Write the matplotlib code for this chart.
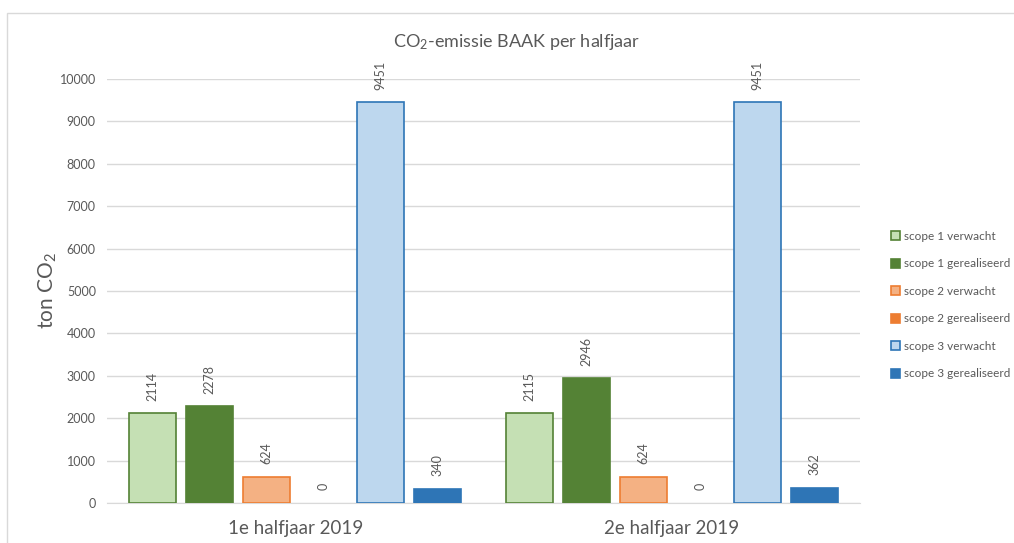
import numpy as np
import matplotlib
matplotlib.use('Agg')
import matplotlib.pyplot as plt
from matplotlib.patches import Rectangle

plt.rcParams['font.family'] = ['Lato', 'DejaVu Sans']
plt.rcParams['mathtext.fontset'] = 'custom'
plt.rcParams['mathtext.rm'] = 'Lato'
plt.rcParams['mathtext.it'] = 'Lato'

# data
periods = ['1e halfjaar 2019', '2e halfjaar 2019']
series = ['scope 1 verwacht', 'scope 1 gerealiseerd', 'scope 2 verwacht',
          'scope 2 gerealiseerd', 'scope 3 verwacht', 'scope 3 gerealiseerd']
values = [[2114, 2115],
          [2278, 2946],
          [624, 624],
          [0, 0],
          [9451, 9451],
          [340, 362]]

faces = ['#c5e0b4', '#548235', '#f4b183', '#ed7d31', '#bdd7ee', '#2e75b6']
edges = ['#548235', '#548235', '#ed7d31', '#ed7d31', '#2e75b6', '#2e75b6']
grey = '#595959'

fig = plt.figure(figsize=(10.14, 5.43), dpi=100)
ax = fig.add_axes([0.1055, 0.0737, 0.7426, 0.7808])

x = np.arange(len(periods))
pitch = 0.1514
w = 0.1248
for i in range(len(series)):
    pos = x + (i - 2.5) * pitch
    lws = [1.2 if v > 0 else 0 for v in values[i]]
    ax.bar(pos, values[i], w, color=faces[i], edgecolor=edges[i],
           linewidth=lws, zorder=3)
    # dummy for legend (zero bars have no outline)
    ax.bar([np.nan], [np.nan], color=faces[i], edgecolor=edges[i], lw=1.2,
           label=series[i])
    for xb, v in zip(pos, values[i]):
        ax.annotate(str(v), (xb, v), xytext=(0, 9), textcoords='offset points',
                    ha='center', va='bottom', rotation=90, fontsize=9, color=grey)

ax.set_xlim(-0.5, 1.5)
ax.set_ylim(0, 10000)
ax.set_yticks(np.arange(0, 10001, 1000))
ax.set_xticks(x)
ax.set_xticklabels(periods)
ax.grid(axis='y', color='#d9d9d9', lw=1, zorder=0)
for s in ['top', 'right', 'left']:
    ax.spines[s].set_visible(False)
ax.spines['bottom'].set_color('#d9d9d9')
ax.tick_params(axis='y', length=0, labelsize=9, labelcolor=grey, pad=8)
ax.tick_params(axis='x', length=0, labelsize=13.5, labelcolor=grey, pad=12)

ax.set_ylabel('ton CO$_2$', fontsize=15, color=grey)
ax.yaxis.set_label_coords(-0.064, 0.5)

fig.text(0.509, 0.923, 'CO$_2$-emissie BAAK per halfjaar', ha='center', va='center',
         fontsize=13, color=grey)

fig.legend(loc='center left', bbox_to_anchor=(0.868, 0.438), frameon=False,
           fontsize=8.5, labelcolor=grey, handlelength=0.8, handleheight=0.8,
           handletextpad=0.3, labelspacing=1.4)

# frame around the chart
fig.add_artist(Rectangle((7 / 1014, -0.1), 1.1, 1.1 - 13 / 543,
                         transform=fig.transFigure, fill=False,
                         edgecolor='#d9d9d9', lw=1))

plt.savefig('out.png', dpi=100)
